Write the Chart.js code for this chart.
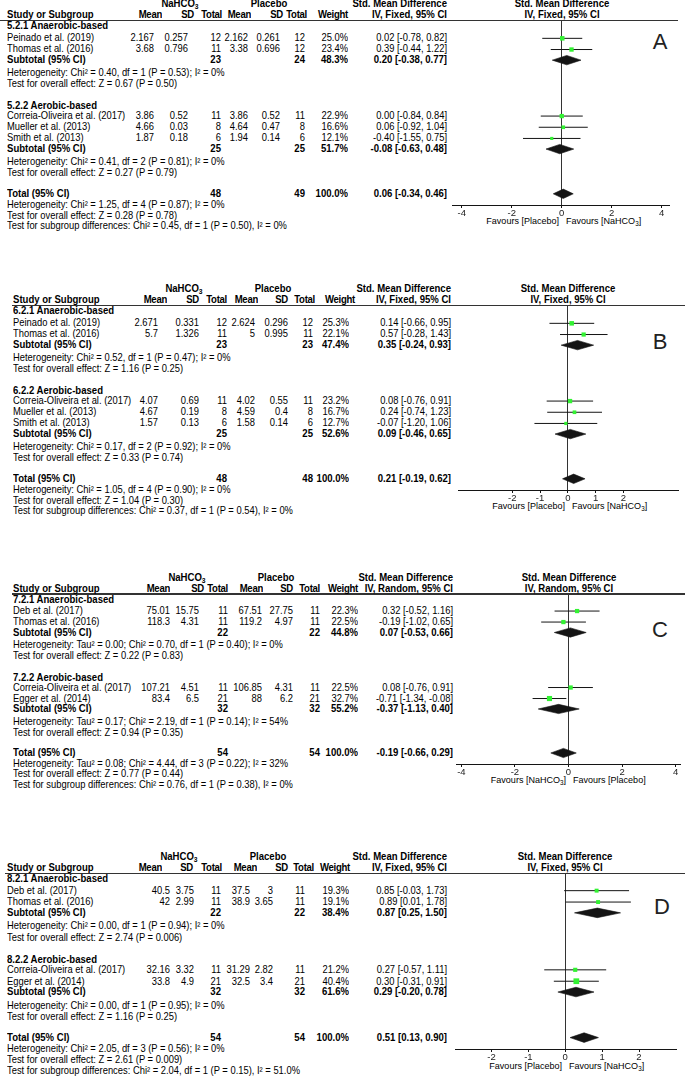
<!DOCTYPE html>
<html>
<head>
<meta charset="utf-8">
<script src="https://cdn.jsdelivr.net/npm/chart.js@4.4.1/dist/chart.umd.min.js"></script>
<style>
  html, body { margin: 0; padding: 0; background: #fff; }
  body { width: 685px; height: 1079px; position: relative; overflow: hidden;
         font-family: "Liberation Sans", Arial, sans-serif; color: #000; }
  .t { position: absolute; white-space: nowrap; font-size: 10.2px; line-height: 12px; height: 12px;
       transform: scaleX(0.92); transform-origin: 0 50%; }
  .b { font-weight: bold; font-size: 10.4px; }
  .r { text-align: right; width: 300px; transform-origin: 100% 50%; }
  .c { text-align: center; width: 300px; transform-origin: 50% 50%; }
  .f { font-size: 9.8px; }
  .hd { letter-spacing: -0.3px; }
  .hl { position: absolute; height: 1.6px; background: #333; }
  .letter { position: absolute; font-size: 22px; line-height: 24px; width: 40px; text-align: center; color: #222; }
  canvas { position: absolute; }
  sub { font-size: 70%; vertical-align: -2px; line-height: 0; }
</style>
</head>
<body>
<script>
// ---------------- panel A : 5.2 ----------------
const aGroups = ["5.2.1 Anaerobic-based", "5.2.2 Aerobic-based"];
const aStudies = ["Peinado et al. (2019)", "Thomas et al. (2016)", "Correia-Oliveira et al. (2017)", "Mueller et al. (2013)", "Smith et al. (2013)"];
const aGroupOf = [0, 0, 1, 1, 1];
const aNa = [["2.167", "0.257", 12], ["3.68", "0.796", 11], ["3.86", "0.52", 11], ["4.66", "0.03", 8], ["1.87", "0.18", 6]];
const aPl = [["2.162", "0.261", 12], ["3.38", "0.696", 12], ["3.86", "0.52", 11], ["4.64", "0.47", 8], ["1.94", "0.14", 6]];
const aWeight = [25.0, 23.4, 22.9, 16.6, 12.1];
const aCi = [[0.02, -0.78, 0.82], [0.39, -0.44, 1.22], [0.00, -0.84, 0.84], [0.06, -0.92, 1.04], [-0.40, -1.55, 0.75]];
const aSub = [[23, 24, 48.3, 0.20, -0.38, 0.77], [25, 25, 51.7, -0.08, -0.63, 0.48]];
const aTotal = [48, 49, 100.0, 0.06, -0.34, 0.46];
const aNotes = [
  ["Heterogeneity: Chi² = 0.40, df = 1 (P = 0.53); I² = 0%", "Test for overall effect: Z = 0.67 (P = 0.50)"],
  ["Heterogeneity: Chi² = 0.41, df = 2 (P = 0.81); I² = 0%", "Test for overall effect: Z = 0.27 (P = 0.79)"],
  ["Heterogeneity: Chi² = 1.25, df = 4 (P = 0.87); I² = 0%", "Test for overall effect: Z = 0.28 (P = 0.78)",
   "Test for subgroup differences: Chi² = 0.45, df = 1 (P = 0.50), I² = 0%"]
];
const aTicks = [-4, -2, 0, 2, 4];
const aFavours = ["Favours [Placebo]", "Favours [NaHCO<sub>3</sub>]"];

// ---------------- panel B : 6.2 ----------------
const bGroups = ["6.2.1 Anaerobic-based", "6.2.2 Aerobic-based"];
const bStudies = ["Peinado et al. (2019)", "Thomas et al. (2016)", "Correia-Oliveira et al. (2017)", "Mueller et al. (2013)", "Smith et al. (2013)"];
const bGroupOf = [0, 0, 1, 1, 1];
const bNa = [["2.671", "0.331", 12], ["5.7", "1.326", 11], ["4.07", "0.69", 11], ["4.67", "0.19", 8], ["1.57", "0.13", 6]];
const bPl = [["2.624", "0.296", 12], ["5", "0.995", 11], ["4.02", "0.55", 11], ["4.59", "0.4", 8], ["1.58", "0.14", 6]];
const bWeight = [25.3, 22.1, 23.2, 16.7, 12.7];
const bCi = [[0.14, -0.66, 0.95], [0.57, -0.28, 1.43], [0.08, -0.76, 0.91], [0.24, -0.74, 1.23], [-0.07, -1.20, 1.06]];
const bSub = [[23, 23, 47.4, 0.35, -0.24, 0.93], [25, 25, 52.6, 0.09, -0.46, 0.65]];
const bTotal = [48, 48, 100.0, 0.21, -0.19, 0.62];
const bNotes = [
  ["Heterogeneity: Chi² = 0.52, df = 1 (P = 0.47); I² = 0%", "Test for overall effect: Z = 1.16 (P = 0.25)"],
  ["Heterogeneity: Chi² = 0.17, df = 2 (P = 0.92); I² = 0%", "Test for overall effect: Z = 0.33 (P = 0.74)"],
  ["Heterogeneity: Chi² = 1.05, df = 4 (P = 0.90); I² = 0%", "Test for overall effect: Z = 1.04 (P = 0.30)",
   "Test for subgroup differences: Chi² = 0.37, df = 1 (P = 0.54), I² = 0%"]
];
const bTicks = [-2, -1, 0, 1, 2];
const bFavours = ["Favours [Placebo]", "Favours [NaHCO<sub>3</sub>]"];

// ---------------- panel C : 7.2 ----------------
const cGroups = ["7.2.1 Anaerobic-based", "7.2.2 Aerobic-based"];
const cStudies = ["Deb et al. (2017)", "Thomas et al. (2016)", "Correia-Oliveira et al. (2017)", "Egger et al. (2014)"];
const cGroupOf = [0, 0, 1, 1];
const cNa = [["75.01", "15.75", 11], ["118.3", "4.31", 11], ["107.21", "4.51", 11], ["83.4", "6.5", 21]];
const cPl = [["67.51", "27.75", 11], ["119.2", "4.97", 11], ["106.85", "4.31", 11], ["88", "6.2", 21]];
const cWeight = [22.3, 22.5, 22.5, 32.7];
const cCi = [[0.32, -0.52, 1.16], [-0.19, -1.02, 0.65], [0.08, -0.76, 0.91], [-0.71, -1.34, -0.08]];
const cSub = [[22, 22, 44.8, 0.07, -0.53, 0.66], [32, 32, 55.2, -0.37, -1.13, 0.40]];
const cTotal = [54, 54, 100.0, -0.19, -0.66, 0.29];
const cNotes = [
  ["Heterogeneity: Tau² = 0.00; Chi² = 0.70, df = 1 (P = 0.40); I² = 0%", "Test for overall effect: Z = 0.22 (P = 0.83)"],
  ["Heterogeneity: Tau² = 0.17; Chi² = 2.19, df = 1 (P = 0.14); I² = 54%", "Test for overall effect: Z = 0.94 (P = 0.35)"],
  ["Heterogeneity: Tau² = 0.08; Chi² = 4.44, df = 3 (P = 0.22); I² = 32%", "Test for overall effect: Z = 0.77 (P = 0.44)",
   "Test for subgroup differences: Chi² = 0.76, df = 1 (P = 0.38), I² = 0%"]
];
const cTicks = [-4, -2, 0, 2, 4];
const cFavours = ["Favours [NaHCO<sub>3</sub>]", "Favours [Placebo]"];

// ---------------- panel D : 8.2 ----------------
const dGroups = ["8.2.1 Anaerobic-based", "8.2.2 Aerobic-based"];
const dStudies = ["Deb et al. (2017)", "Thomas et al. (2016)", "Correia-Oliveira et al. (2017)", "Egger et al. (2014)"];
const dGroupOf = [0, 0, 1, 1];
const dNa = [["40.5", "3.75", 11], ["42", "2.99", 11], ["32.16", "3.32", 11], ["33.8", "4.9", 21]];
const dPl = [["37.5", "3", 11], ["38.9", "3.65", 11], ["31.29", "2.82", 11], ["32.5", "3.4", 21]];
const dWeight = [19.3, 19.1, 21.2, 40.4];
const dCi = [[0.85, -0.03, 1.73], [0.89, 0.01, 1.78], [0.27, -0.57, 1.11], [0.30, -0.31, 0.91]];
const dSub = [[22, 22, 38.4, 0.87, 0.25, 1.50], [32, 32, 61.6, 0.29, -0.20, 0.78]];
const dTotal = [54, 54, 100.0, 0.51, 0.13, 0.90];
const dNotes = [
  ["Heterogeneity: Chi² = 0.00, df = 1 (P = 0.94); I² = 0%", "Test for overall effect: Z = 2.74 (P = 0.006)"],
  ["Heterogeneity: Chi² = 0.00, df = 1 (P = 0.95); I² = 0%", "Test for overall effect: Z = 1.16 (P = 0.25)"],
  ["Heterogeneity: Chi² = 2.05, df = 3 (P = 0.56); I² = 0%", "Test for overall effect: Z = 2.61 (P = 0.009)",
   "Test for subgroup differences: Chi² = 2.04, df = 1 (P = 0.15), I² = 51.0%"]
];
const dTicks = [-2, -1, 0, 1, 2];
const dFavours = ["Favours [Placebo]", "Favours [NaHCO<sub>3</sub>]"];

//////////////////////////////////////////////////////////
// panel list + where things sit on the page
// hcols = right edges of header words, vcols = right edges of values
const panels = [
  { letter: 'A', groups: aGroups, studies: aStudies, groupOf: aGroupOf, na: aNa, pl: aPl, weight: aWeight, ci: aCi,
    sub: aSub, total: aTotal, notes: aNotes, ticks: aTicks, favours: aFavours, method: 'IV, Fixed, 95% CI',
    top: 20.7, u: 11.2, x0: 6.7,
    hcols: [161.7, 194.3, 221.7, 250.7, 283.3, 306.7, 348.3, 446.7],
    vcols: [154, 188, 220.5, 247.5, 280, 305, 348.3, 446.7], naC: 180, plC: 268.5,
    line: [0, 678], plot: [452, 670], range: [-4.39, 4.33], letterAt: [660, 42] },
  { letter: 'B', groups: bGroups, studies: bStudies, groupOf: bGroupOf, na: bNa, pl: bPl, weight: bWeight, ci: bCi,
    sub: bSub, total: bTotal, notes: bNotes, ticks: bTicks, favours: bFavours, method: 'IV, Fixed, 95% CI',
    top: 305.7, u: 11.2, x0: 12.7,
    hcols: [166.7, 199.3, 226.7, 258.3, 288.3, 315, 355, 451],
    vcols: [158, 198.5, 226.7, 255, 287.5, 313, 349, 451], naC: 184, plC: 272.5,
    line: [11.7, 685], plot: [458, 679], range: [-3.95, 4.0], letterAt: [660, 342] },
  { letter: 'C', groups: cGroups, studies: cStudies, groupOf: cGroupOf, na: cNa, pl: cPl, weight: cWeight, ci: cCi,
    sub: cSub, total: cTotal, notes: cNotes, ticks: cTicks, favours: cFavours, method: 'IV, Random, 95% CI',
    top: 594, u: 11.0, x0: 12.7,
    hcols: [170, 204.3, 228.3, 263.3, 293.3, 320, 358.3, 453.3],
    vcols: [169.5, 199, 227.7, 262, 293.3, 320, 357.5, 453.3], naC: 186.7, plC: 276,
    line: [11.7, 685], plot: [456, 681], range: [-4.2, 4.2], letterAt: [660, 630] },
  { letter: 'D', groups: dGroups, studies: dStudies, groupOf: dGroupOf, na: dNa, pl: dPl, weight: dWeight, ci: dCi,
    sub: dSub, total: dTotal, notes: dNotes, ticks: dTicks, favours: dFavours, method: 'IV, Fixed, 95% CI',
    top: 873.3, u: 11.4, x0: 6.7,
    hcols: [162.3, 193.3, 221.7, 256.7, 288.3, 314, 350, 446.7],
    vcols: [170, 194, 221, 250, 273, 305, 349.3, 446.7], naC: 179, plC: 268.3,
    line: [5, 685], plot: [455, 677], range: [-2.99, 3.03], letterAt: [662, 907] }
];

const FONT = '"Liberation Sans", Arial, sans-serif';
const GREEN = '#33f233';
const INK = '#141414';

function fmt(v) { return v.toFixed(2) }
function ciText(e, lo, hi) { return fmt(e) + ' [' + fmt(lo) + ', ' + fmt(hi) + ']' }

function put(txt, x, y, bold, align, extra) {
    const d = document.createElement('div')
    d.className = 't' + (bold ? ' b' : '') + (extra ? ' ' + extra : '')
    d.innerHTML = txt
    d.style.top = (y - 6) + 'px'
    if (align === 'r') {
        d.classList.add('r')
        d.style.left = (x - 300) + 'px'
    } else if (align === 'c') {
        d.classList.add('c')
        d.style.left = (x - 150) + 'px'
    } else {
        d.style.left = x + 'px'
    }
    document.body.appendChild(d)
}

// row positions in "row units" below the header line
function rowLayout(p) {
    const rows = { study: [], title: [], sub: [], het: [], test: [] }
    let y = 0.5
    for (let g = 0; g < 2; g++) {
        if (g === 1) y = rows.test[0] + 1.95
        rows.title.push(y)
        y += g === 0 ? 1.05 : 0.9
        p.studies.forEach((s, i) => {
            if (p.groupOf[i] === g) {
                rows.study[i] = y
                y += 1
            }
        })
        y -= 0.05
        rows.sub.push(y)
        rows.het.push(y + 1.15)
        rows.test.push(y + 2.15)
    }
    rows.total = rows.test[1] + 1.85
    rows.axis = rows.total + 1.0
    rows.foot = [rows.total + 1.0, rows.total + 1.95, rows.total + 2.9]
    return rows
}

function drawTable(p, rows) {
    const Y = v => p.top + v * p.u
    const h = p.hcols, c = p.vcols
    // header line
    const hl = document.createElement('div')
    hl.className = 'hl'
    hl.style.left = p.line[0] + 'px'
    hl.style.width = (p.line[1] - p.line[0]) + 'px'
    hl.style.top = (p.top - 0.8) + 'px'
    document.body.appendChild(hl)

    const zeroPx = p.plot[0] + (0 - p.range[0]) / (p.range[1] - p.range[0]) * (p.plot[1] - p.plot[0])
    const h1 = p.top - 16.5, h2 = p.top - 5.5
    put('NaHCO<sub>3</sub>', p.naC, h1, true, 'c')
    put('Placebo', p.plC, h1, true, 'c')
    put('Std. Mean Difference', h[7], h1, true, 'r')
    put('Std. Mean Difference', zeroPx, h1, true, 'c')
    put('Study or Subgroup', p.x0, h2, true)
    const heads = ['Mean', 'SD', 'Total', 'Mean', 'SD', 'Total', 'Weight']
    heads.forEach((word, k) => put(word, h[k], h2, true, 'r', 'hd'))
    put(p.method, h[7], h2, true, 'r')
    put(p.method, zeroPx, h2, true, 'c')

    for (let g = 0; g < 2; g++) {
        put(p.groups[g], p.x0, Y(rows.title[g]), true)
        const s = p.sub[g]
        put('Subtotal (95% CI)', p.x0, Y(rows.sub[g]), true)
        put(s[0], c[2], Y(rows.sub[g]), true, 'r')
        put(s[1], c[5], Y(rows.sub[g]), true, 'r')
        put(s[2].toFixed(1) + '%', c[6], Y(rows.sub[g]), true, 'r')
        put(ciText(s[3], s[4], s[5]), c[7], Y(rows.sub[g]), true, 'r')
        put(p.notes[g][0], p.x0, Y(rows.het[g]))
        put(p.notes[g][1], p.x0, Y(rows.test[g]))
    }
    p.studies.forEach((name, i) => {
        const y = Y(rows.study[i])
        put(name, p.x0, y)
        put(p.na[i][0], c[0], y, false, 'r')
        put(p.na[i][1], c[1], y, false, 'r')
        put(p.na[i][2], c[2], y, false, 'r')
        put(p.pl[i][0], c[3], y, false, 'r')
        put(p.pl[i][1], c[4], y, false, 'r')
        put(p.pl[i][2], c[5], y, false, 'r')
        put(p.weight[i].toFixed(1) + '%', c[6], y, false, 'r')
        put(ciText(p.ci[i][0], p.ci[i][1], p.ci[i][2]), c[7], y, false, 'r')
    })
    const t = p.total
    put('Total (95% CI)', p.x0, Y(rows.total), true)
    put(t[0], c[2], Y(rows.total), true, 'r')
    put(t[1], c[5], Y(rows.total), true, 'r')
    put(t[2].toFixed(1) + '%', c[6], Y(rows.total), true, 'r')
    put(ciText(t[3], t[4], t[5]), c[7], Y(rows.total), true, 'r')
    p.notes[2].forEach((n, k) => put(n, p.x0, Y(rows.foot[k])))

    // favours labels under the axis
    const fy = Y(rows.axis) + 16.5
    put(p.favours[0], zeroPx - 3, fy, false, 'r', 'f')
    put(p.favours[1], zeroPx + 4, fy, false, null, 'f')

    const L = document.createElement('div')
    L.className = 'letter'
    L.textContent = p.letter
    L.style.left = (p.letterAt[0] - 20) + 'px'
    L.style.top = (p.letterAt[1] - 12) + 'px'
    document.body.appendChild(L)
}

function diamond(est, lo, hi, y) {
    const h = 0.42
    return [
        { data: [{ x: lo, y: y }, { x: est, y: y - h }, { x: hi, y: y }], showLine: true, pointRadius: 0,
          borderColor: INK, borderWidth: 0.6, backgroundColor: INK, fill: false, order: 1 },
        { data: [{ x: lo, y: y }, { x: est, y: y + h }, { x: hi, y: y }], showLine: true, pointRadius: 0,
          borderColor: INK, borderWidth: 0.6, backgroundColor: INK, fill: '-1', order: 1 }
    ]
}

function drawPlot(p, rows) {
    const cv = document.createElement('canvas')
    const w = p.plot[1] - p.plot[0]
    const tickArea = 14
    const h = rows.axis * p.u + tickArea
    cv.width = w
    cv.height = Math.round(h)
    cv.style.left = p.plot[0] + 'px'
    cv.style.top = p.top + 'px'
    document.body.appendChild(cv)

    const datasets = []
    // study squares first so they sit on top of the CI lines
    datasets.push({
        data: p.ci.map((ci, i) => ({ x: ci[0], y: rows.study[i] })),
        pointStyle: 'rect',
        pointRadius: p.weight.map(wt => 0.9 * Math.sqrt(wt) / Math.SQRT2),
        pointBackgroundColor: GREEN, pointBorderWidth: 0, showLine: false, order: 0
    })
    // confidence intervals
    p.ci.forEach((ci, i) => {
        datasets.push({ data: [{ x: ci[1], y: rows.study[i] }, { x: ci[2], y: rows.study[i] }], showLine: true,
            pointRadius: 0, borderColor: INK, borderWidth: 1, order: 2 })
    })
    // subtotal and total diamonds
    p.sub.forEach((s, g) => datasets.push(...diamond(s[3], s[4], s[5], rows.sub[g])))
    datasets.push(...diamond(p.total[3], p.total[4], p.total[5], rows.total))

    new Chart(cv, {
        type: 'scatter',
        data: { datasets: datasets },
        options: {
            responsive: false,
            animation: false,
            devicePixelRatio: 1,
            events: [],
            layout: { padding: 0, autoPadding: false },
            plugins: { legend: { display: false }, tooltip: { enabled: false } },
            scales: {
                x: {
                    type: 'linear', min: p.range[0], max: p.range[1],
                    afterBuildTicks: s => { s.ticks = p.ticks.map(v => ({ value: v })) },
                    afterFit: s => { s.height = tickArea },
                    grid: {
                        color: ctx => (ctx.tick && ctx.tick.value === 0) ? '#333' : 'rgba(0,0,0,0)',
                        tickColor: INK, tickLength: 3, lineWidth: 1
                    },
                    border: { display: true, color: INK, width: 1 },
                    ticks: { padding: 0, maxRotation: 0, color: '#222', font: { family: FONT, size: 9.5 } }
                },
                y: { type: 'linear', display: false, min: 0, max: rows.axis, reverse: true }
            }
        }
    })
}

panels.forEach(p => {
    const rows = rowLayout(p)
    drawTable(p, rows)
    drawPlot(p, rows)
})
</script>
</body>
</html>
